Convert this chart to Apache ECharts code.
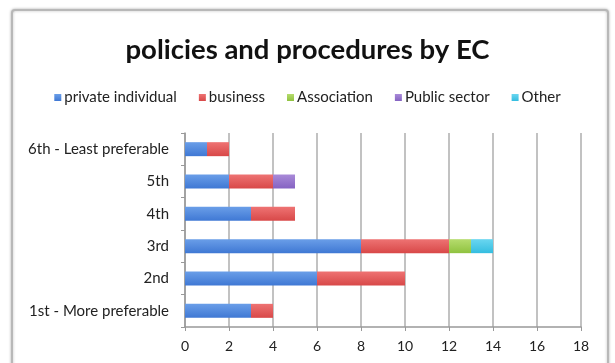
<!DOCTYPE html>
<html><head><meta charset="utf-8">
<script src="https://cdn.jsdelivr.net/npm/echarts@6/dist/echarts.min.js"></script>
<style>html,body{margin:0;padding:0;background:#fff}#c{width:615px;height:363px}</style>
</head><body><div id="c"></div>
<script>
const categories = ['1st - More preferable','2nd','3rd','4th','5th','6th - Least preferable'];
const seriesNames = ['private individual','business','Association','Public sector','Other'];
const privateIndividual = [3,6,8,3,2,1];
const business = [1,4,4,2,2,1];
const association = [0,0,1,0,0,0];
const publicSector = [0,0,0,0,1,0];
const other = [0,0,1,0,0,0];
const xTicks = [0,2,4,6,8,10,12,14,16,18];
const colors = [['#6a9ee8','#3f78d4'],['#ee7373','#d84848'],['#b6dc6e','#8fc23f'],['#a98ad8','#8563c2'],['#6ad6f0','#34bde0']];
const values = [privateIndividual,business,association,publicSector,other];
const font = 'Lato, "Open Sans", sans-serif';
const chart = echarts.init(document.getElementById('c'), null, {renderer:'canvas'});
chart.setOption({
  animation:false,
  backgroundColor:'#fff',
  graphic:[{type:'rect',shape:{x:12,y:10,width:596,height:360,r:3},style:{fill:'#fff',stroke:'#b8b8b8',lineWidth:2,shadowBlur:3,shadowColor:'rgba(0,0,0,0.25)'},z:-10}],
  title:{text:'policies and procedures by EC',left:'center',top:31,textStyle:{fontFamily:font,fontSize:27.5,fontWeight:'bold',color:'#111'}},
  legend:{top:85,left:'center',itemWidth:7,itemHeight:7,itemGap:22,icon:'rect',
    textStyle:{fontFamily:font,fontSize:15,color:'#222',padding:[0,0,0,-2]},data:seriesNames},
  grid:{left:185,right:34,top:133,bottom:36,containLabel:false},
  xAxis:{type:'value',min:0,max:18,interval:2,
    axisLine:{show:true,lineStyle:{color:'#999',width:1.5}},
    axisTick:{show:true,length:4,lineStyle:{color:'#999'}},
    axisLabel:{fontFamily:font,fontSize:14,color:'#222',margin:12,formatter:v=>xTicks.includes(v)?String(v):''},
    splitLine:{show:true,lineStyle:{color:'#c2c2c2',width:2}}},
  yAxis:{type:'category',data:categories,
    axisLine:{show:true,lineStyle:{color:'#999',width:1.5}},
    axisTick:{show:true,length:4,inside:false,lineStyle:{color:'#999'}},
    axisLabel:{fontFamily:font,fontSize:15,color:'#222',margin:16}},
  series: seriesNames.map((n,i)=>({name:n,type:'bar',stack:'s',barWidth:14,
    data:values[i].map(v=>v===0?null:v),
    itemStyle:{color:new echarts.graphic.LinearGradient(0,0,0,1,[{offset:0,color:colors[i][0]},{offset:1,color:colors[i][1]}])}})),
  color: colors.map(c=>c[1])
});
</script></body></html>
